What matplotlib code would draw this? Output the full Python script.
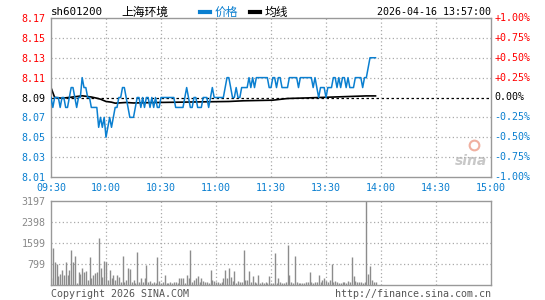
import matplotlib.pyplot as plt
from matplotlib.lines import Line2D

# minute index from 09:30 (0) to 15:00 (240), data up to 13:57
price = [8.09, 8.08, 8.09, 8.09, 8.09, 8.08, 8.09, 8.09, 8.08, 8.08,
         8.09, 8.10, 8.10, 8.09, 8.08, 8.09, 8.09, 8.11, 8.10, 8.10,
         8.09, 8.09, 8.08, 8.08, 8.08, 8.08, 8.06, 8.07, 8.06, 8.07,
         8.05, 8.06, 8.07, 8.06, 8.07, 8.08, 8.08, 8.09, 8.09, 8.10,
         8.10, 8.09, 8.08, 8.07, 8.07, 8.07, 8.08, 8.09, 8.09, 8.08,
         8.09, 8.08, 8.09, 8.09, 8.08, 8.09, 8.08, 8.09, 8.08, 8.08,
         8.09, 8.09, 8.09, 8.09, 8.09, 8.09, 8.09, 8.09, 8.08, 8.08,
         8.08, 8.08, 8.08, 8.09, 8.10, 8.09, 8.08, 8.08, 8.09, 8.09,
         8.08, 8.08, 8.08, 8.09, 8.09, 8.09, 8.08, 8.09, 8.10, 8.09,
         8.09, 8.09, 8.09, 8.09, 8.09, 8.10, 8.11, 8.11, 8.10, 8.09,
         8.09, 8.10, 8.09, 8.09, 8.10, 8.10, 8.10, 8.10, 8.11, 8.10,
         8.11, 8.10, 8.11, 8.11, 8.11, 8.11, 8.11, 8.11, 8.11, 8.10,
         8.10, 8.11, 8.11, 8.10, 8.11, 8.11, 8.10, 8.10, 8.10, 8.10,
         8.11, 8.11, 8.11, 8.11, 8.11, 8.10, 8.11, 8.11, 8.11, 8.11,
         8.11, 8.11, 8.11, 8.10, 8.11, 8.10, 8.09, 8.10, 8.10, 8.10,
         8.09, 8.10, 8.10, 8.10, 8.11, 8.11, 8.10, 8.11, 8.10, 8.11,
         8.11, 8.10, 8.11, 8.10, 8.10, 8.10, 8.11, 8.11, 8.11, 8.11,
         8.10, 8.11, 8.11, 8.12, 8.13, 8.13, 8.13, 8.13]

avg_min = [0, 2, 6, 11, 17, 22, 25, 27, 30, 33, 35, 41, 45, 59, 97, 105, 121, 129, 140, 172, 177]
avg_val = [8.100, 8.090, 8.0893, 8.0903, 8.0917, 8.0905, 8.0893, 8.0883, 8.0860, 8.0853,
           8.0843, 8.0850, 8.0845, 8.0850, 8.0860, 8.0867, 8.0873, 8.0890, 8.0896, 8.0916, 8.0916]

volume = [280, 1420, 890, 790, 340, 420, 570, 380, 890, 380,
          570, 1330, 890, 1100, 60, 510, 420, 630, 510, 530,
          190, 1080, 280, 380, 460, 490, 1800, 660, 320, 920,
          860, 190, 570, 250, 380, 190, 380, 320, 100, 1120,
          100, 190, 630, 610, 100, 190, 60, 1240, 100, 250,
          100, 280, 760, 100, 150, 60, 100, 60, 1080, 150,
          60, 100, 380, 60, 60, 100, 60, 100, 130, 60,
          280, 250, 280, 60, 380, 250, 1330, 100, 190, 280,
          350, 100, 250, 150, 100, 100, 60, 570, 190, 150,
          100, 100, 60, 100, 280, 570, 250, 660, 320, 150,
          530, 60, 150, 100, 100, 1330, 190, 190, 530, 100,
          350, 100, 60, 380, 60, 100, 60, 100, 60, 350,
          60, 60, 1205, 60, 250, 100, 60, 60, 100, 1520,
          380, 100, 60, 1100, 100, 60, 60, 60, 60, 130,
          100, 510, 100, 60, 100, 100, 380, 100, 190, 250,
          150, 100, 190, 790, 100, 150, 130, 60, 60, 100,
          100, 60, 150, 100, 1080, 350, 150, 100, 130, 100,
          60, 100, 3197, 420, 730, 190, 100, 100]

prev_close = 8.09
price_ticks = [8.17, 8.15, 8.13, 8.11, 8.09, 8.07, 8.05, 8.03, 8.01]
pct_labels = ['+1.00%', '+0.75%', '+0.50%', '+0.25%', '0.00%', '-0.25%', '-0.50%', '-0.75%', '-1.00%']
time_ticks = [0, 30, 60, 90, 120, 150, 180, 210, 240]
time_labels = ['09:30', '10:00', '10:30', '11:00', '11:30', '13:30', '14:00', '14:30', '15:00']
vol_ticks = [799, 1599, 2398, 3197]

RED = '#ff0000'
BLUE = '#0a7fd0'
GRID = '#aaaaaa'
FRAME = '#999999'
MONO = 'DejaVu Sans Mono'
CJK = ['Noto Sans CJK SC', 'DejaVu Sans']

W, H = 545, 300
fig = plt.figure(figsize=(5.45, 3.0), dpi=100)
ax = fig.add_axes([51 / W, 1 - 177 / H, 440 / W, 159 / H])
axv = fig.add_axes([51 / W, 1 - 285 / H, 440 / W, 84 / H])

# price panel
ax.set_xlim(0, 240)
ax.set_ylim(8.01, 8.17)
for y in price_ticks[1:-1]:
    if y == prev_close:
        ax.axhline(y, color='black', lw=0.9, ls=(0, (2, 2)), zorder=1)
    else:
        ax.axhline(y, color=GRID, lw=0.9, ls=(0, (1, 2)), zorder=1)
for x in time_ticks[1:-1]:
    ax.axvline(x, color=GRID, lw=0.9, ls=(0, (1, 2)), zorder=1)

ax.plot(range(len(price)), price, color=BLUE, lw=1.1, zorder=3)
ax.plot(avg_min, avg_val, color='black', lw=1.2, zorder=2)

ax.set_yticks(price_ticks)
ax.set_yticklabels(['%.2f' % p for p in price_ticks], fontfamily=MONO, fontsize=7.2)
for lab, p in zip(ax.get_yticklabels(), price_ticks):
    lab.set_color(RED if p > prev_close else ('black' if p == prev_close else BLUE))
ax.set_xticks(time_ticks)
ax.set_xticklabels(time_labels, fontfamily=MONO, fontsize=7.2, color=BLUE)
ax.tick_params(length=0, pad=4)
for p, t in zip(price_ticks, pct_labels):
    c = RED if p > prev_close else ('black' if p == prev_close else BLUE)
    ax.text(1.008, p, t, transform=ax.get_yaxis_transform(), ha='left', va='center',
            fontfamily=MONO, fontsize=7.2, color=c)
for s in ax.spines.values():
    s.set_color(FRAME)
    s.set_linewidth(1)

# sina watermark
ax.text(0.955, 0.1, 'sina', transform=ax.transAxes, ha='center', va='center',
        fontsize=10, fontweight='bold', style='italic', color='#c8c8c8', zorder=0)
ax.plot([0.962], [0.2], 'o', transform=ax.transAxes, ms=7, mfc='none', mec='#f0b0a0', mew=1.5, zorder=0)

# volume panel
axv.set_xlim(0, 240)
axv.set_ylim(0, 3197)
for y in vol_ticks[:-1]:
    axv.axhline(y, color=GRID, lw=0.9, ls=(0, (1, 2)), zorder=1)
for x in time_ticks[1:-1]:
    axv.axvline(x, color=GRID, lw=0.9, ls=(0, (1, 2)), zorder=1)
axv.vlines(range(len(volume)), 0, volume, color='#8c8c8c', lw=1, zorder=2)
axv.set_yticks(vol_ticks)
axv.set_yticklabels([str(v) for v in vol_ticks], fontfamily=MONO, fontsize=7.2, color='#888888')
axv.set_xticks([])
axv.tick_params(length=0, pad=4)
for s in axv.spines.values():
    s.set_color(FRAME)
    s.set_linewidth(1)

# header
ty = 1 - 12 / H
fig.text(51 / W, ty, 'sh601200', fontfamily=MONO, fontsize=7.8, va='center')
fig.text(121 / W, ty, '上海环境', family=CJK, fontsize=8.5, va='center')
fig.add_artist(Line2D([200 / W, 210 / W], [ty, ty], color=BLUE, lw=3))
fig.text(215 / W, ty, '价格', family=CJK, fontsize=8.5, va='center', color=BLUE)
fig.add_artist(Line2D([250 / W, 260 / W], [ty, ty], color='black', lw=3))
fig.text(265 / W, ty, '均线', family=CJK, fontsize=8.5, va='center')
fig.text(491 / W, ty, '2026-04-16 13:57:00', fontfamily=MONO, fontsize=7.2, va='center', ha='right')

# footer
fy = 1 - 294 / H
fig.text(51 / W, fy, 'Copyright 2026 SINA.COM', fontfamily=MONO, fontsize=7.2, va='center', color='#555555')
fig.text(491 / W, fy, 'http://finance.sina.com.cn', fontfamily=MONO, fontsize=7.2, va='center', ha='right', color='#555555')

fig.savefig('out.png', dpi=100)
